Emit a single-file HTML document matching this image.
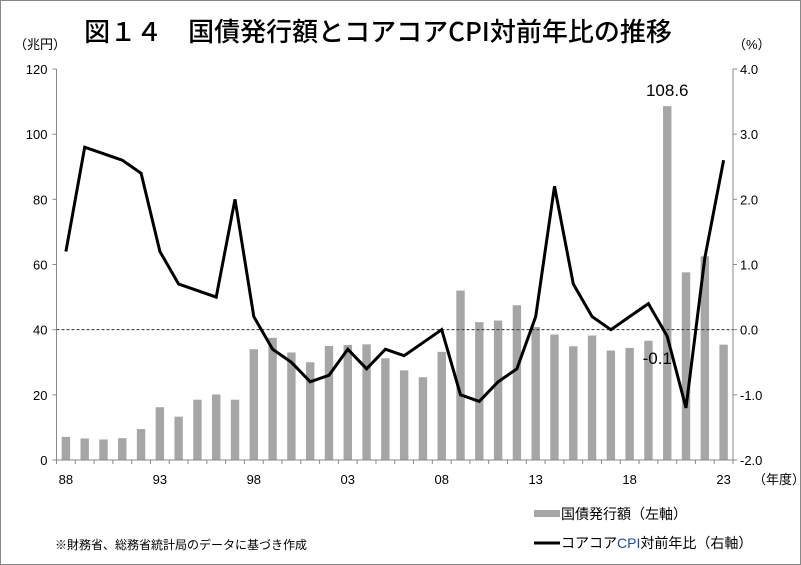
<!DOCTYPE html>
<html><head><meta charset="utf-8"><style>
body{margin:0;background:#fff}
svg{display:block;font-family:"Liberation Sans","Noto Sans CJK JP",sans-serif}
</style></head><body>
<svg id="c" width="801" height="565" viewBox="0 0 801 565">
<rect x="0.5" y="0.5" width="800" height="564" fill="#fff" stroke="#888"/>
<text x="378" y="41" font-size="26" text-anchor="middle" font-weight="500" fill="#000" font-family="'Noto Sans CJK JP',sans-serif">図１４　国債発行額とコアコアCPI対前年比の推移</text>
<text x="14" y="49" font-size="13" fill="#000">（兆円）</text>
<text x="733" y="49" font-size="13" fill="#000">（%）</text>
<g id="plot"></g>
<text x="753" y="484" font-size="13">（年度）</text>
<text x="55" y="549" font-size="12">※財務省、総務省統計局のデータに基づき作成</text>
<g>
<rect x="534" y="510" width="26" height="7" fill="#a6a6a6"/>
<text x="561" y="519" font-size="14">国債発行額（左軸）</text>
<line x1="534" y1="543" x2="560" y2="543" stroke="#000" stroke-width="3"/>
<text x="561" y="548" font-size="14">コアコア<tspan fill="#1f4e9c">CPI</tspan>対前年比（右軸）</text>
</g>
</svg>
<script>
const years = ["88","89","90","91","92","93","94","95","96","97","98","99","00","01","02","03","04","05","06","07","08","09","10","11","12","13","14","15","16","17","18","19","20","21","22","23"];
const bondValues = [7.1,6.6,6.3,6.7,9.5,16.2,13.3,18.5,20.1,18.5,34.0,37.5,33.0,30.0,35.0,35.3,35.5,31.2,27.5,25.4,33.2,52.0,42.3,42.8,47.5,40.8,38.5,34.9,38.2,33.6,34.4,36.6,108.6,57.6,62.5,35.4];
const cpiValues = [1.2,2.8,2.7,2.6,2.4,1.2,0.7,0.6,0.5,2.0,0.2,-0.3,-0.5,-0.8,-0.7,-0.3,-0.6,-0.3,-0.4,-0.2,0.0,-1.0,-1.1,-0.8,-0.6,0.2,2.2,0.7,0.2,0.0,0.2,0.4,-0.1,-1.2,1.1,2.6];
const leftTicks = [0,20,40,60,80,100,120];
const rightTicks = [-2.0,-1.0,0.0,1.0,2.0,3.0,4.0];
const xLabels = ["88","93","98","03","08","13","18","23"];

const NS="http://www.w3.org/2000/svg";
const g=document.getElementById('plot');
const L=56.5,R=733,T=69,B=460;
const band=(R-L)/years.length;
const xC=i=>L+band*(i+0.5);
const yL=v=>B-(v/120)*(B-T);
const yR=v=>B-((v+2)/6)*(B-T);
function mk(tag,attrs){const e=document.createElementNS(NS,tag);for(const k in attrs)e.setAttribute(k,attrs[k]);g.appendChild(e);return e;}

bondValues.forEach((v,i)=>{
  const r=mk('rect',{x:xC(i)-4.2,y:yL(v),width:8.4,height:B-yL(v),fill:'#a6a6a6'});
  
  
});
const z=mk('line',{x1:L,x2:R,y1:yR(0),y2:yR(0),stroke:'#333','stroke-dasharray':'3,2','stroke-width':1});



const pts=cpiValues.map((v,i)=>xC(i).toFixed(1)+','+yR(v).toFixed(1)).join(' ');
const pl=mk('polyline',{points:pts,fill:'none',stroke:'#000','stroke-width':3,'stroke-linejoin':'miter'});



const ax=mk('path',{d:`M${L},${T}V${B}H${R}V${T}`,fill:'none',stroke:'#888','stroke-width':1});



leftTicks.forEach(v=>{
  mk('line',{x1:L-4,x2:L,y1:yL(v),y2:yL(v),stroke:'#888'});
  const t=mk('text',{x:L-9,y:yL(v)+5,'font-size':13,'text-anchor':'end'});
  t.textContent=v;
  
  
});
rightTicks.forEach(v=>{
  mk('line',{x1:R,x2:R+4,y1:yR(v),y2:yR(v),stroke:'#888'});
  const t=mk('text',{x:R+7,y:yR(v)+5,'font-size':13});
  t.textContent=v.toFixed(1);
  
  
});
for(let i=0;i<=years.length;i++){mk('line',{x1:L+band*i,x2:L+band*i,y1:B,y2:B+4,stroke:'#888'});}
years.forEach((y,i)=>{
  if(xLabels.includes(y)){
    const t=mk('text',{x:xC(i),y:484,'font-size':13,'text-anchor':'middle'});
    t.textContent=y;
    
    
  }
});
const i20=years.indexOf("20");
const a=mk('text',{x:xC(i20),y:yL(bondValues[i20])-10,'font-size':17,'text-anchor':'middle'});
a.textContent=bondValues[i20].toFixed(1);


const b=mk('text',{x:xC(i20)-10,y:yR(cpiValues[i20])+28,'font-size':17,'text-anchor':'middle'});
b.textContent=cpiValues[i20].toFixed(1);


</script>
</body></html>
